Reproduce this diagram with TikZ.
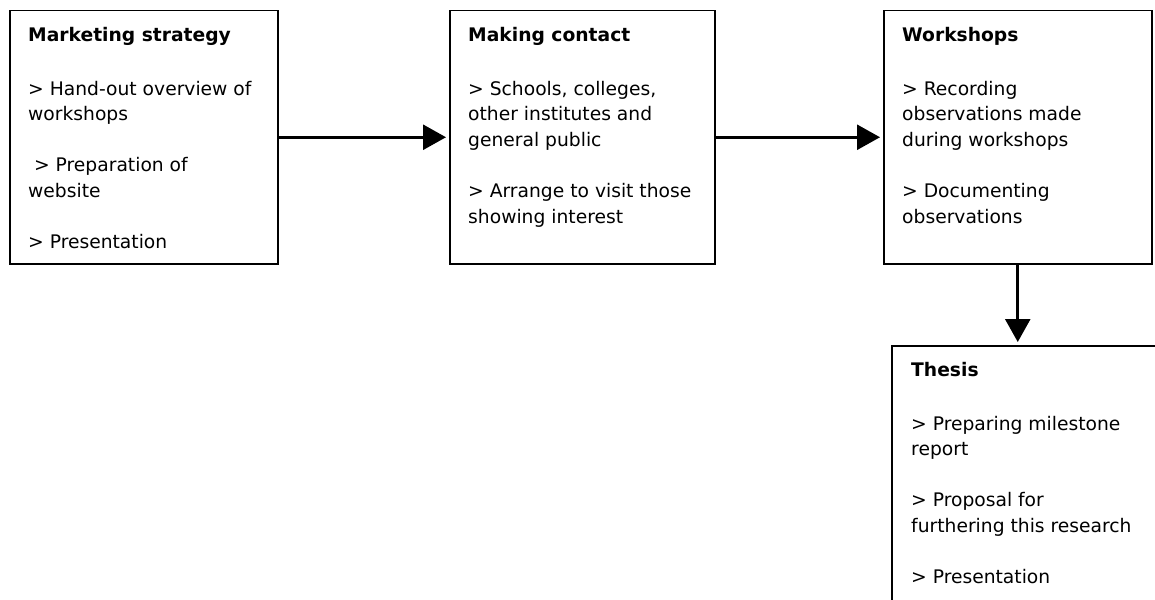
\documentclass[tikz,border=0pt]{standalone}
\usepackage{fontspec}
\setmainfont{DejaVu Sans}
\usetikzlibrary{positioning,arrows.meta}
\begin{document}
\begin{tikzpicture}[x=1pt,y=-1pt,
    stage/.style ={draw, line width=1.5pt, inner sep=0pt, anchor=north west, minimum height=253pt},
    notes/.style ={inner sep=0pt, align=left, font=\fontsize{18.7}{25.6}\selectfont},
    flow/.style ={line width=2.6pt, shorten >=3pt, -{Triangle[length=23pt,width=25pt]}}]
   \useasboundingbox (0,0) rectangle (1155,599);
   \clip (0,0) rectangle (1155,599);
   \node[stage, minimum width=268pt] (market)  at (9,10)  {};
   \node[stage, minimum width=265pt] (contact) at (449,10) {};
   \node[stage, minimum width=268pt] (work)    at (883,10) {};
   \node[stage, minimum width=300pt, minimum height=300pt] (thesis) at (891,345) {};
   \node[notes, below right=17pt and 19pt of market.north west] (marketT)
     {\textbf{Marketing strategy}\\[28pt] > Hand-out overview of\\ workshops\\[25.6pt]
      \ > Preparation of\\ website\\[25.6pt] > Presentation};
   \node[notes, below right=17pt and 19pt of contact.north west] (contactT)
     {\textbf{Making contact}\\[28pt] > Schools, colleges,\\ other institutes and\\ general public\\[25.6pt]
      > Arrange to visit those\\ showing interest};
   \node[notes, below right=17pt and 19pt of work.north west] (workT)
     {\textbf{Workshops}\\[28pt] > Recording\\ observations made\\ during workshops\\[25.6pt]
      > Documenting\\ observations};
   \node[notes, below right=17pt and 20pt of thesis.north west] (thesisT)
     {\textbf{Thesis}\\[28pt] > Preparing milestone\\ report\\[25.6pt]
      > Proposal for\\ furthering this research\\[25.6pt] > Presentation};
   \draw[flow] (market)  to (contact);
   \draw[flow] (contact) to (work);
   \draw[flow] (work.south) to (work.south |- thesis.north);
 \end{tikzpicture}
\end{document}
